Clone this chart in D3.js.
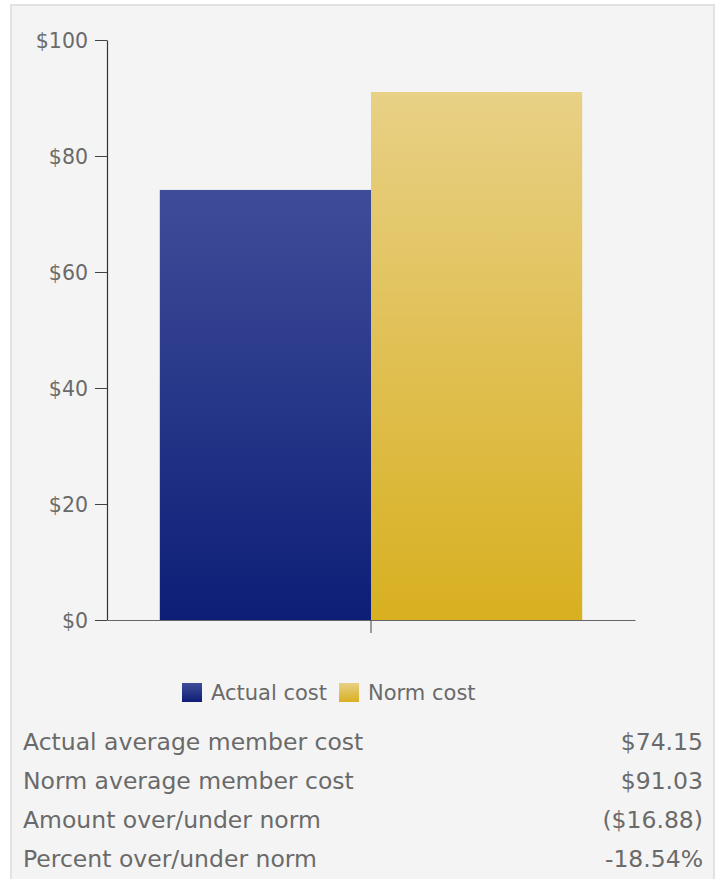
<!DOCTYPE html>
<html>
<head>
<meta charset="utf-8">
<script src="https://cdn.jsdelivr.net/npm/d3@7"></script>
<style>
  html, body { margin: 0; padding: 0; background: #ffffff; }
  svg { display: block; }
  text { font-family: "DejaVu Sans", Verdana, sans-serif; }
</style>
</head>
<body>
<svg id="chart" width="719" height="879"></svg>
<script>
// Cost comparison data
const categories = ["Member cost"];
const seriesNames = ["Actual cost", "Norm cost"];
const seriesValues = [74.15, 91.03];
const yTicks = [0, 20, 40, 60, 80, 100];
const summaryLabels = [
  "Actual average member cost",
  "Norm average member cost",
  "Amount over/under norm",
  "Percent over/under norm"
];
const summaryValues = ["$74.15", "$91.03", "($16.88)", "-18.54%"];

const svg = d3.select("#chart");
const W = 719, H = 879;

// panel background
svg.append("rect")
  .attr("x", 11).attr("y", 5).attr("width", 703).attr("height", H + 10)
  .attr("fill", "#f4f4f4").attr("stroke", "#e2e2e2").attr("stroke-width", 2);

// vertical gradients for bars and legend swatches
const defs = svg.append("defs");
const gradColors = [["#3f4d98", "#0d1e77"], ["#e8d086", "#d8b020"]];
gradColors.forEach((c, i) => {
  const g = defs.append("linearGradient").attr("id", "grad" + i)
    .attr("x1", 0).attr("y1", 0).attr("x2", 0).attr("y2", 1);
  g.append("stop").attr("offset", "0%").attr("stop-color", c[0]);
  g.append("stop").attr("offset", "100%").attr("stop-color", c[1]);
});

const plot = { left: 107, right: 635, top: 40, bottom: 620 };

const x0 = d3.scaleBand().domain(categories).range([plot.left, plot.right]).paddingInner(0).paddingOuter(0.125);
const x1 = d3.scaleBand().domain(seriesNames).range([0, x0.bandwidth()]).padding(0);
const y = d3.scaleLinear().domain([0, 100]).range([plot.bottom, plot.top]);

// bars
const groups = svg.append("g").selectAll("g").data(categories).join("g")
  .attr("transform", d => `translate(${x0(d)},0)`);
groups.selectAll("rect").data(seriesNames.map((s, i) => ({ s, v: seriesValues[i], i })))
  .join("rect")
  .attr("x", d => x1(d.s))
  .attr("y", d => y(d.v))
  .attr("width", x1.bandwidth())
  .attr("height", d => y(0) - y(d.v))
  .attr("fill", d => `url(#grad${d.i})`);

// y axis
const yAxis = d3.axisLeft(y).tickValues(yTicks).tickFormat(d => "$" + d)
  .tickSize(12).tickSizeOuter(0).tickPadding(7);
const gy = svg.append("g").attr("transform", `translate(${plot.left},0)`).call(yAxis);
gy.select(".domain").attr("stroke", "#333").attr("stroke-width", 1.2);
gy.selectAll(".tick line").attr("stroke", "#444");
gy.selectAll(".tick text").attr("fill", "#6a6a6a").style("font-size", "20.5px").attr("dy", "0.36em");

// x axis
const xAxis = d3.axisBottom(x0).tickSize(13).tickFormat("").tickSizeOuter(0);
const gx = svg.append("g").attr("transform", `translate(0,${plot.bottom})`).call(xAxis);
gx.select(".domain").attr("stroke", "#666").attr("stroke-width", 1.2);
gx.selectAll(".tick line").attr("stroke", "#444");

// legend
const legend = svg.append("g").attr("transform", "translate(182,683)");
let lx = 0;
seriesNames.forEach((s, i) => {
  const item = legend.append("g").attr("transform", `translate(${lx},0)`);
  item.append("rect").attr("width", 20).attr("height", 19).attr("fill", `url(#grad${i})`);
  const t = item.append("text").attr("x", 29).attr("y", 17)
    .attr("fill", "#6a6a6a").style("font-size", "21px").text(s);
  lx += 29 + t.node().getComputedTextLength() + 12;
});

// summary table
const rowY = d3.scalePoint().domain(summaryLabels).range([750, 867]);
const table = svg.append("g");
table.selectAll("text.lbl").data(summaryLabels).join("text").attr("class", "lbl")
  .attr("x", 23).attr("y", d => rowY(d))
  .attr("fill", "#6a6a6a").style("font-size", "23.5px").text(d => d);
table.selectAll("text.val").data(summaryValues).join("text").attr("class", "val")
  .attr("x", 703).attr("y", (d, i) => rowY(summaryLabels[i]))
  .attr("text-anchor", "end")
  .attr("fill", "#6a6a6a").style("font-size", "23.5px").text(d => d);
</script>
</body>
</html>
